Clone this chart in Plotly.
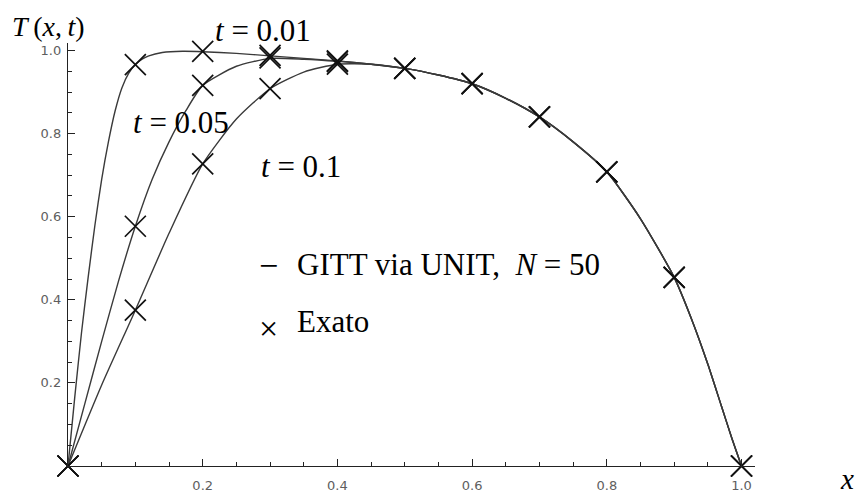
import plotly.graph_objects as go

# ---------------- data ----------------
x_exact = [0.0, 0.1, 0.2, 0.3, 0.4, 0.5, 0.6, 0.7, 0.8, 0.9, 1.0]
exact_t001 = [0.0, 0.966, 0.998, 0.988, 0.975, 0.957, 0.920, 0.840, 0.708, 0.454, 0.0]
exact_t005 = [0.0, 0.577, 0.916, 0.982, 0.973, 0.957, 0.920, 0.840, 0.708, 0.454, 0.0]
exact_t01 = [0.0, 0.375, 0.727, 0.908, 0.967, 0.957, 0.920, 0.840, 0.708, 0.454, 0.0]

# GITT curves
x_gitt_t001 = [0.0, 0.01, 0.02, 0.03, 0.04, 0.05, 0.06, 0.07, 0.08, 0.09, 0.10,
               0.11, 0.12, 0.14, 0.17, 0.20, 0.25, 0.30, 0.35, 0.40]
y_gitt_t001 = [0.0, 0.165, 0.32, 0.455, 0.58, 0.69, 0.78, 0.855, 0.91, 0.945, 0.966,
               0.979, 0.987, 0.995, 0.998, 0.997, 0.993, 0.987, 0.981, 0.975]

x_gitt_t005 = [0.0, 0.025, 0.05, 0.075, 0.10, 0.125, 0.15, 0.175, 0.20, 0.25, 0.30,
               0.35, 0.40]
y_gitt_t005 = [0.0, 0.15, 0.30, 0.445, 0.577, 0.69, 0.78, 0.855, 0.916, 0.962, 0.981,
               0.979, 0.974]

x_gitt_t01 = [0.0, 0.05, 0.10, 0.15, 0.20, 0.25, 0.30, 0.35, 0.40]
y_gitt_t01 = [0.0, 0.195, 0.375, 0.56, 0.727, 0.835, 0.908, 0.948, 0.967]

# common part of the three curves (x >= 0.45)
x_tail = [0.45, 0.50, 0.55, 0.60, 0.65, 0.70, 0.75, 0.80, 0.85, 0.90, 0.925,
          0.95, 0.97, 0.985, 1.0]
y_tail = [0.967, 0.957, 0.941, 0.920, 0.885, 0.840, 0.780, 0.708, 0.595, 0.454,
          0.357, 0.245, 0.145, 0.07, 0.0]

tick_vals = [0.2, 0.4, 0.6, 0.8, 1.0]
tick_text = ["0.2", "0.4", "0.6", "0.8", "1.0"]

curve_labels = ["<i>t</i> = 0.01", "<i>t</i> = 0.05", "<i>t</i> = 0.1"]
legend_line = "GITT via UNIT,  <i>N</i> = 50"
legend_mark = "Exato"

# ---------------- figure ----------------
W, H = 860, 497
ML, MR, MT, MB = 68, 105, 43, 31
XR = [0, 1.02]
YR = [0, 1.018]

fig = go.Figure()

line_style = dict(color="#3a3a3a", width=1.4, shape="spline", smoothing=0.6)
for xs, ys in [(x_gitt_t001, y_gitt_t001), (x_gitt_t005, y_gitt_t005),
               (x_gitt_t01, y_gitt_t01)]:
    fig.add_trace(go.Scatter(x=xs + x_tail, y=ys + y_tail, mode="lines",
                             line=line_style, showlegend=False, hoverinfo="skip"))

for ys in [exact_t001, exact_t005, exact_t01]:
    fig.add_trace(go.Scatter(x=x_exact, y=ys, mode="markers", cliponaxis=False,
                             marker=dict(symbol="x-thin", size=21, color="black",
                                         line=dict(color="#111", width=1.7)),
                             showlegend=False, hoverinfo="skip"))

def px(xp):
    return (xp - ML) / (W - ML - MR)

def py(yp):
    return (H - MB - yp) / (H - MT - MB)

serif = "Liberation Serif"
ann = []
def add_text(text, xp, yp, size, xanchor="left", yanchor="middle"):
    ann.append(dict(text=text, x=px(xp), y=py(yp), xref="paper", yref="paper",
                    xanchor=xanchor, yanchor=yanchor, showarrow=False,
                    font=dict(family=serif, size=size, color="black")))

add_text("<i>T</i>\u2009(<i>x</i>,\u2009<i>t</i>)", 10, 26, 28)
add_text("<i>x</i>", 838, 479, 29)
add_text(curve_labels[0], 213, 31, 31)
add_text(curve_labels[1], 131, 122, 31)
add_text(curve_labels[2], 259, 166, 31)
add_text("\u2212", 257, 265, 34)
add_text(legend_line, 295, 264, 31)
add_text("\u00d7", 257, 328, 34)
add_text(legend_mark, 295, 321, 31)

axis_common = dict(showline=True, linecolor="#222", linewidth=1.4,
                   ticks="inside", ticklen=7, tickwidth=1.2, tickcolor="#222",
                   tickmode="array", tickvals=tick_vals, ticktext=tick_text,
                   tickfont=dict(family="DejaVu Sans", size=13, color="#5e5e5e"),
                   minor=dict(ticks="inside", ticklen=4, tickwidth=1.1,
                              tickcolor="#222", tick0=0, dtick=0.05),
                   showgrid=False, zeroline=False, fixedrange=True,
                   automargin=False)

fig.update_layout(
    width=W, height=H,
    margin=dict(l=ML, r=MR, t=MT, b=MB, autoexpand=False),
    paper_bgcolor="white", plot_bgcolor="white",
    xaxis=dict(range=XR, ticklabelstandoff=7, **axis_common),
    yaxis=dict(range=YR, ticklabelstandoff=3, **axis_common),
    annotations=ann,
    showlegend=False,
)

fig.write_html("out.html")
